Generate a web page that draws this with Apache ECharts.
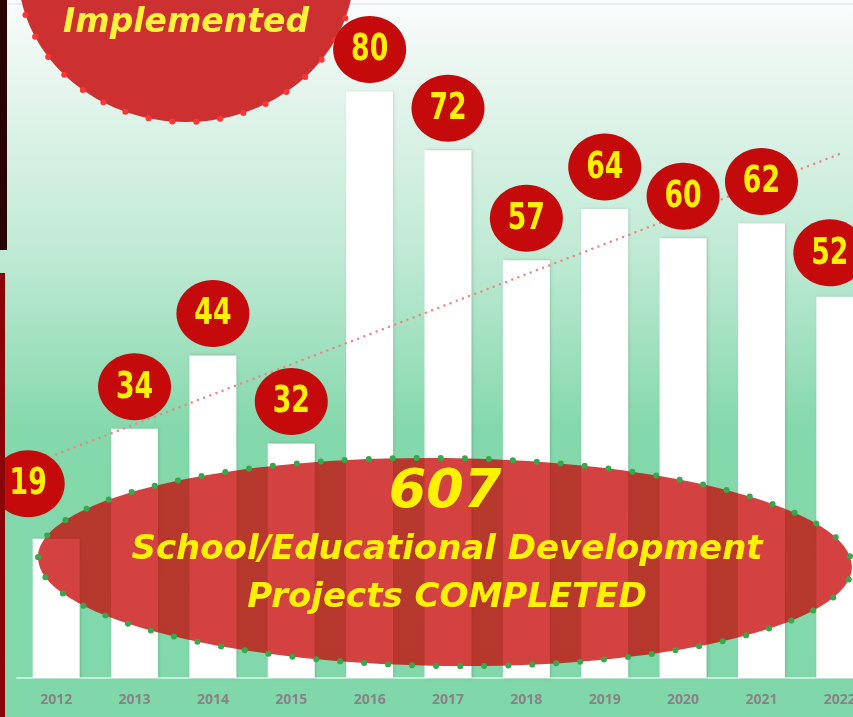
<!DOCTYPE html>
<html>
<head>
<meta charset="utf-8">
<title>Projects completed</title>
<script src="https://cdn.jsdelivr.net/npm/echarts@6/dist/echarts.min.js"></script>
<style>
  html, body { margin: 0; padding: 0; background: #ffffff; }
  #chart { width: 853px; height: 717px; }
</style>
</head>
<body>
<div id="chart"></div>
<script>
  // chart data
  var years = ['2012', '2013', '2014', '2015', '2016', '2017', '2018', '2019', '2020', '2021', '2022'];
  var projects = [19, 34, 44, 32, 80, 72, 57, 64, 60, 62, 52];
  // dotted trend line (first and last year only)
  var trend = [30.5, null, null, null, null, null, null, null, null, null, 71.5];
  var totalText = '607';

  var numFont = '"DejaVu Sans Condensed", "DejaVu Sans", sans-serif';
  var funFont = '"Comic Sans MS", "DejaVu Sans", sans-serif';

  // a couple of badges sit off their bar in the original
  var badgeNudge = { 0: [-28, -13], 10: [-10, -2] };

  var chartDom = document.getElementById('chart');
  var myChart = echarts.init(chartDom);

  function renderBadge(params, api) {
    var i = api.value(0);
    var p = api.coord([i, api.value(1)]);
    var nudge = badgeNudge[i] || [0, 0];
    var cx = p[0] + nudge[0];
    var cy = p[1] - 42 + nudge[1];
    return {
      type: 'group',
      children: [
        {
          type: 'ellipse',
          shape: { cx: cx, cy: cy, rx: 36.5, ry: 33.5 },
          style: { fill: '#c40a0a' }
        },
        {
          type: 'text',
          x: cx,
          y: cy,
          scaleX: 0.9,
          scaleY: 1.12,
          style: {
            text: String(api.value(1)),
            x: 0,
            y: 1,
            fill: '#fff200',
            font: 'bold 33px ' + numFont,
            textAlign: 'center',
            textVerticalAlign: 'middle'
          }
        }
      ]
    };
  }

  var option = {
    animation: false,
    grid: { left: 17, top: 0, width: 862, height: 678, outerBoundsMode: 'none', containLabel: false },
    xAxis: {
      type: 'category',
      data: years,
      axisLine: { show: true, lineStyle: { color: '#c6ecd9', width: 2 } },
      axisTick: { show: false },
      axisLabel: {
        color: '#8a8088',
        fontSize: 14,
        fontWeight: 'bold',
        fontFamily: '"Open Sans", "DejaVu Sans", sans-serif',
        margin: 15
      }
    },
    yAxis: {
      type: 'value',
      min: 0,
      max: 92.5,
      show: false,
      splitLine: { show: false }
    },
    series: [
      {
        type: 'bar',
        data: projects,
        barWidth: 47,
        z: 2,
        itemStyle: {
          color: '#ffffff',
          shadowColor: 'rgba(0,0,0,0.18)',
          shadowBlur: 3,
          shadowOffsetX: 1
        }
      },
      {
        type: 'line',
        data: trend,
        connectNulls: true,
        symbol: 'none',
        z: 3,
        silent: true,
        lineStyle: { color: '#f08484', width: 2.5, type: [0, 6.6], cap: 'round' }
      },
      {
        type: 'custom',
        z: 4,
        silent: true,
        data: projects.map(function (v, i) { return [i, v]; }),
        renderItem: renderBadge
      }
    ],
    graphic: [
      {
        type: 'rect',
        z: -10,
        silent: true,
        shape: { x: 0, y: 0, width: 853, height: 717 },
        style: {
          fill: new echarts.graphic.LinearGradient(0, 0, 0, 1, [
            { offset: 0, color: '#fafcfd' },
            { offset: 0.1, color: '#e8f6ef' },
            { offset: 0.35, color: '#c0ead5' },
            { offset: 0.6, color: '#84d8ab' },
            { offset: 1, color: '#80d8aa' }
          ])
        }
      },
      {
        type: 'rect',
        z: -9,
        silent: true,
        shape: { x: 0, y: 679, width: 853, height: 38 },
        style: { fill: '#80d8aa' }
      },
      {
        type: 'line',
        z: -8,
        silent: true,
        shape: { x1: 8, y1: 4, x2: 853, y2: 4 },
        style: { stroke: '#dedede', lineWidth: 1 }
      },
      {
        type: 'rect',
        z: 20,
        silent: true,
        shape: { x: 0, y: 0, width: 7, height: 250 },
        style: { fill: '#2a0404' }
      },
      {
        type: 'rect',
        z: 20,
        silent: true,
        shape: { x: 0, y: 273, width: 5, height: 444 },
        style: { fill: '#8a0606' }
      },
      // "Implemented" badge, cut off at the top
      {
        type: 'ellipse',
        z: 1,
        silent: true,
        shape: { cx: 186, cy: -30, rx: 168, ry: 152 },
        style: {
          fill: '#cc3030',
          stroke: '#ff3434',
          lineWidth: 6,
          lineDash: [0, 24],
          lineCap: 'round'
        }
      },
      {
        type: 'text',
        z: 1,
        silent: true,
        style: {
          text: 'Implemented',
          x: 186,
          y: 23,
          fill: '#fff23a',
          font: 'italic bold 33px ' + funFont,
          textAlign: 'center',
          textVerticalAlign: 'middle'
        }
      },
      // big "607" ellipse
      {
        type: 'ellipse',
        z: 10,
        silent: true,
        rotation: -0.012,
        originX: 445,
        originY: 562,
        shape: { cx: 445, cy: 562, rx: 407, ry: 104 },
        style: {
          fill: 'rgba(198,8,8,0.77)',
          stroke: '#37a84c',
          lineWidth: 6,
          lineDash: [0, 24],
          lineCap: 'round'
        }
      },
      {
        type: 'text',
        z: 11,
        silent: true,
        style: {
          text: totalText,
          x: 445,
          y: 493,
          fill: '#fff200',
          font: 'italic bold 54px ' + funFont,
          textAlign: 'center',
          textVerticalAlign: 'middle'
        }
      },
      {
        type: 'text',
        z: 11,
        silent: true,
        style: {
          text: 'School/Educational Development',
          x: 447,
          y: 550,
          fill: '#fff200',
          font: 'italic bold 34px ' + funFont,
          textAlign: 'center',
          textVerticalAlign: 'middle'
        }
      },
      {
        type: 'text',
        z: 11,
        silent: true,
        style: {
          text: 'Projects COMPLETED',
          x: 447,
          y: 598,
          fill: '#fff200',
          font: 'italic bold 34px ' + funFont,
          textAlign: 'center',
          textVerticalAlign: 'middle'
        }
      }
    ]
  };

  option && myChart.setOption(option);
</script>
</body>
</html>
